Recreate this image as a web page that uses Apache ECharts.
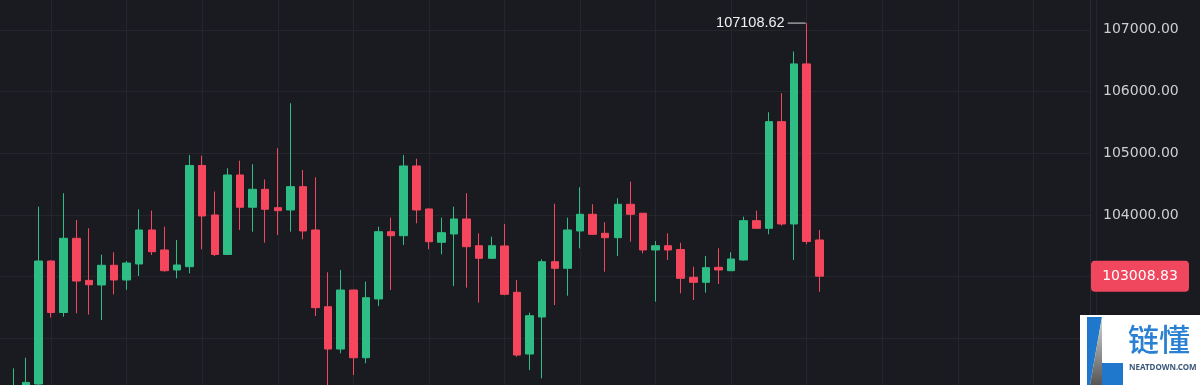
<!DOCTYPE html>
<html>
<head>
<meta charset="utf-8">
<script src="https://cdn.jsdelivr.net/npm/echarts@6.0.0/dist/echarts.min.js"></script>
<style>
html,body{margin:0;padding:0;background:#1a1b20;}
#chart{width:1200px;height:385px;}
</style>
</head>
<body>
<div id="chart"></div>
<script>
// ---- data ----
const slotCount = 86; // 65 candles + empty space to the right
const categories = Array.from({length: slotCount}, (_, i) => String(i + 1));

const opens = [101050, 101150, 101261, 103254, 102420, 103622, 102940, 102866, 103185, 102947,
  103206, 103757, 103433, 103109, 103162, 104802, 104000, 103360, 104648, 104125,
  104416, 104118, 104081, 104459, 103757, 102514, 101828, 102784, 101687, 102639,
  103729, 103664, 104794, 104097, 103558, 103692, 103935, 103502, 103298, 103498,
  102747, 101747, 102347, 103243, 103136, 103741, 104011, 103703, 103632, 104173,
  104028, 103433, 103502, 103441, 102990, 102909, 103152, 103097, 103271, 103908,
  103784, 105512, 103854, 106447, 103595];

const closes = [101230, 101288, 103254, 102420, 103622, 102930, 102870, 103185, 102947, 103222,
  103757, 103405, 103097, 103190, 104802, 103984, 103360, 104648, 104125, 104416,
  104092, 104070, 104459, 103741, 102498, 101828, 102784, 101687, 102660, 103729,
  103664, 104794, 104081, 103567, 103713, 103935, 103486, 103298, 103502, 102715,
  101731, 102368, 103243, 103136, 103757, 104011, 103687, 103632, 104173, 104011,
  103433, 103502, 103433, 102974, 102909, 103146, 103109, 103287, 103908, 103784,
  105512, 103854, 106447, 103571, 103008.83];

const lows = [100980, 101100, 101229, 102339, 102352, 102407, 102387, 102298, 102715, 102789,
  103011, 103352, 103081, 102974, 103055, 103444, 103335, 103352, 103757, 103729,
  103551, 103676, 103729, 103606, 102363, 101230, 101759, 101407, 101597, 102525,
  102784, 103514, 103865, 103444, 103363, 102849, 102822, 102579, 103287, 102699,
  101703, 101488, 101353, 102541, 102692, 103460, 103676, 103081, 103335, 103567,
  103379, 102595, 103271, 102731, 102622, 102741, 102882, 103092, 103263, 103781,
  103687, 103827, 103271, 103525, 102757];

const highs = [101515, 101687, 104134, 103263, 104352, 103919, 103784, 103357, 103395, 103254,
  104092, 104070, 103810, 103595, 104972, 104961, 104381, 104757, 104880, 104822,
  104575, 105081, 105810, 104729, 104611, 103071, 103109, 102790, 102922, 103810,
  103956, 104972, 104912, 104105, 103956, 104134, 104352, 103703, 103648, 103854,
  102947, 102417, 103282, 104182, 103956, 104449, 104173, 103882, 104271, 104540,
  104032, 103579, 103703, 103549, 103162, 103335, 103460, 103395, 103972, 104070,
  105664, 105972, 106647, 107108.62, 103757];

const yMin = 101245.5;
const yMax = 107482.5;

// ---- chart ----
const UP = '#2ebd85';
const DOWN = '#f6465d';
const GRID = '#25262d';
const BADGE = '#f0465e';

const candleData = opens.map((o, i) => [o, closes[i], lows[i], highs[i]]);
const lastClose = closes[closes.length - 1];

const hiddenCat = {
  type: 'category', data: categories, boundaryGap: true,
  axisLine: {show: false}, axisTick: {show: false}, axisLabel: {show: false}, splitLine: {show: false}
};

const chart = echarts.init(document.getElementById('chart'), null, {renderer: 'canvas'});
chart.setOption({
  backgroundColor: '#1a1b20',
  animation: false,
  grid: [
    {left: 7, right: 110, top: 0, bottom: 0},          // candles
    {left: 13.3, right: 103.7, top: 0, bottom: 0},     // vertical grid lines on candle centres
    {left: 0, right: 110, top: 0, bottom: 0}           // price axis + horizontal grid lines
  ],
  xAxis: [
    Object.assign({}, hiddenCat, {gridIndex: 0}),
    Object.assign({}, hiddenCat, {
      gridIndex: 1,
      splitLine: {
        show: true,
        interval: function (i) { return i % 6 === 3; },
        lineStyle: {color: GRID, width: 1}
      }
    }),
    Object.assign({}, hiddenCat, {gridIndex: 2})
  ],
  yAxis: [{
    type: 'value', gridIndex: 0, show: false, min: yMin, max: yMax, splitLine: {show: false}
  }, {
    type: 'value', gridIndex: 1, show: false, min: yMin, max: yMax, splitLine: {show: false}
  }, {
    type: 'value',
    gridIndex: 2,
    position: 'right',
    min: yMin,
    max: yMax,
    minInterval: 1000,
    maxInterval: 1000,
    axisLine: {show: true, lineStyle: {color: '#2a2b32', width: 1}},
    axisTick: {show: false},
    axisLabel: {
      show: true,
      margin: 13,
      color: '#cdced3',
      fontSize: 14,
      fontFamily: 'DejaVu Sans',
      showMinLabel: false,
      showMaxLabel: false,
      formatter: function (v) { return v.toFixed(2); }
    },
    splitLine: {show: true, showMinLine: false, showMaxLine: false, lineStyle: {color: GRID, width: 1}}
  }],
  series: [{
    type: 'candlestick',
    xAxisIndex: 0,
    yAxisIndex: 0,
    data: candleData,
    barWidth: 8,
    z: 3,
    itemStyle: {
      color: UP,
      color0: DOWN,
      borderColor: UP,
      borderColor0: DOWN,
      borderWidth: 1
    },
    markPoint: {
      silent: true,
      symbol: 'rect',
      symbolSize: [18, 1],
      symbolOffset: [-10, 0],
      itemStyle: {color: '#d8d8dc'},
      label: {
        show: true,
        position: 'left',
        distance: 3,
        color: '#f0f0f3',
        fontSize: 14.5,
        fontFamily: 'Liberation Sans',
        formatter: function (p) { return Number(p.value).toFixed(2); }
      },
      data: [{type: 'max', valueDim: 'highest'}]
    }
  }]
});

// last-price badge on the y axis, positioned through the axis scale
const py = chart.convertToPixel({yAxisIndex: 2}, lastClose);
const axisX = 1200 - 110;

chart.setOption({
  graphic: [
    {type: 'rect', z: 100, shape: {x: axisX + 1, y: py - 15.5, width: 98, height: 31, r: 4}, style: {fill: BADGE}},
    {type: 'text', z: 101, x: axisX + 50, y: py, style: {text: lastClose.toFixed(2), fill: '#ffffff', font: '14px "DejaVu Sans"', align: 'center', verticalAlign: 'middle'}},
    // watermark logo
    {type: 'rect', z: 100, shape: {x: 1080, y: 315, width: 120, height: 70}, style: {fill: '#ffffff'}},
    {type: 'polygon', z: 101, shape: {points: [[1087, 317], [1102, 317], [1090, 385], [1087, 385]]}, style: {fill: '#1f78cc'}},
    {type: 'polygon', z: 101, shape: {points: [[1102, 317], [1102, 385], [1090, 385]]},
      style: {fill: new echarts.graphic.LinearGradient(0, 0, 0, 1, [{offset: 0, color: '#d6d6d6'}, {offset: 1, color: '#555555'}])}},
    {type: 'rect', z: 101, shape: {x: 1102, y: 363, width: 21, height: 22}, style: {fill: '#1f78cc'}},
    {type: 'text', z: 101, x: 1128, y: 339, style: {text: '链懂', fill: '#2a80d2', font: '500 31px "Noto Sans CJK SC"', verticalAlign: 'middle'}},
    {type: 'text', z: 101, x: 1129, y: 368, style: {text: 'NEATDOWN.COM', fill: '#3a5878', font: 'bold 8px "Noto Sans"', verticalAlign: 'middle'}}
  ]
});
</script>
</body>
</html>
